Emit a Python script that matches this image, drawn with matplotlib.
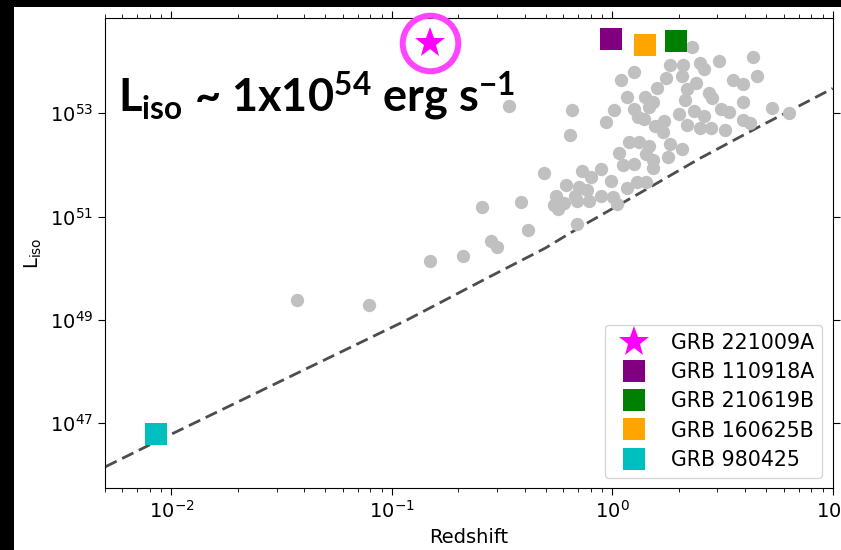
import numpy as np
import matplotlib
matplotlib.use("Agg")
import matplotlib.pyplot as plt
import matplotlib.ticker as ticker
from matplotlib.patches import Rectangle

# muestra de GRBs (log10 z, log10 Liso)
sample_logz = [0.361, 0.638, 0.482, 0.399, 0.323, 0.263, 0.414, 0.097, 0.041, 0.246,
               0.315, 0.550, 0.595, 0.658, 0.382, 0.203, 0.340, 0.438, 0.452, 0.067,
               0.150, 0.184, 0.331, 0.595, 0.165, 0.492, 0.528, -0.468, -0.183, 0.010,
               0.097, 0.369, 0.724, 0.800, 0.119, 0.142, 0.301, 0.417, -0.027, 0.233,
               0.195, 0.339, 0.397, 0.450, 0.510, 0.595, 0.626, 0.229, -0.190, 0.077,
               0.122, 0.165, 0.263, 0.315, 0.029, 0.154, 0.255, 0.187, 0.051, 0.097,
               0.184, -0.308, -0.137, -0.050, -0.096, -0.209, -0.153, -0.005, 0.113, 0.154,
               0.067, -0.115, -0.254, -0.168, -0.051, 0.005, -0.266, -0.221, -0.160, -0.104,
               0.021, -0.245, -0.590, -0.415, -0.160, -0.383, -0.551, -0.525, -0.677, -0.829,
               -1.105, -1.430]
sample_logL = [54.29, 54.08, 54.01, 53.98, 53.93, 53.93, 53.86, 53.79, 53.65, 53.68,
               53.72, 53.65, 53.56, 53.72, 53.58, 53.48, 53.46, 53.39, 53.29, 53.31,
               53.32, 53.22, 53.26, 53.22, 53.13, 53.08, 53.03, 53.14, 53.07, 53.07,
               53.09, 53.05, 53.11, 53.00, 52.93, 52.88, 52.98, 52.94, 52.84, 52.85,
               52.76, 52.78, 52.72, 52.71, 52.67, 52.87, 52.81, 52.63, 52.57, 52.44,
               52.45, 52.37, 52.41, 52.31, 52.24, 52.21, 52.16, 52.09, 52.00, 52.02,
               51.94, 51.84, 51.88, 51.93, 51.76, 51.62, 51.58, 51.68, 51.66, 51.66,
               51.55, 51.52, 51.40, 51.40, 51.39, 51.38, 51.23, 51.26, 51.31, 51.31,
               51.25, 51.14, 51.18, 51.28, 50.85, 50.74, 50.53, 50.42, 50.24, 50.15,
               49.28, 49.39]

# limite de deteccion
limit_logz = [-2.299, -2.000, -1.415, -0.931, -0.568, -0.304, -0.145, 0.127, 0.399, 0.671, 1.000]
limit_logL = [46.16, 46.79, 48.00, 49.00, 49.81, 50.39, 50.80, 51.46, 52.13, 52.75, 53.48]

# GRBs destacados
grb_names = ['GRB 221009A', 'GRB 110918A', 'GRB 210619B', 'GRB 160625B', 'GRB 980425']
grb_logz = [-0.825, -0.006, 0.289, 0.150, -2.069]
grb_logL = [54.36, 54.44, 54.40, 54.32, 46.79]
grb_colors = ['#ff00ff', '#800080', '#008000', '#ffa500', '#00bfbf']
grb_markers = ['*', 's', 's', 's', 's']
grb_sizes = [23, 16, 16, 16, 16]

plt.rcParams['mathtext.fontset'] = 'dejavusans'
plt.rcParams['mathtext.rm'] = 'Lato'
plt.rcParams['mathtext.bf'] = 'Lato:bold'

fig = plt.figure(figsize=(8.41, 5.5), dpi=100, facecolor='black')
fig.add_artist(Rectangle((14 / 841, 0), 1, 1 - 7 / 550, transform=fig.transFigure,
                         facecolor='white', edgecolor='none', zorder=-10))
ax = fig.add_axes([0.12485, 0.11218, 0.86528, 0.85564])

ax.plot(10 ** np.array(sample_logz), 10 ** np.array(sample_logL), 'o',
        color='#c0c0c0', ms=9.6, mew=0, zorder=2)
ax.plot(10 ** np.array(limit_logz), 10 ** np.array(limit_logL), color='#4d4d4d',
        lw=2, dashes=(4.5, 2.2), zorder=1)

for name, lz, lL, c, m, s in zip(grb_names, grb_logz, grb_logL, grb_colors, grb_markers, grb_sizes):
    ax.plot(10 ** lz, 10 ** lL, m, color=c, ms=s, mew=0, label=name, zorder=4, clip_on=False)

# circulo alrededor de GRB 221009A
ax.plot(10 ** grb_logz[0], 10 ** grb_logL[0], 'o', mfc='none', mec='#ff44ff',
        ms=40, mew=4.3, zorder=5, clip_on=False)

ax.set_xscale('log')
ax.set_yscale('log')
ax.set_xlim(5e-3, 10)
ax.set_ylim(5.53e45, 7.06e54)
ax.yaxis.set_major_locator(ticker.FixedLocator([1e47, 1e49, 1e51, 1e53]))
ax.yaxis.set_major_formatter(ticker.LogFormatterSciNotation())
ax.yaxis.set_minor_locator(ticker.NullLocator())
ax.tick_params(which='both', top=True, right=True, labelsize=14)
ax.tick_params(which='major', length=5)
ax.tick_params(which='minor', length=3)

ax.set_xlabel('Redshift', fontsize=14)
ax.set_ylabel(r'L$_{\mathrm{iso}}$', fontsize=14)
ax.legend(loc='lower right', fontsize=14.8, labelspacing=0.45, borderaxespad=0.5)

fig.text(118 / 841, 1 - 112 / 550,
         r'L$_{\mathbf{iso}}$ ~ 1x10$^{\mathbf{54}}$ erg s$^{\mathbf{-1}}$',
         fontsize=32.5, fontweight='bold', family='Lato', math_fontfamily='custom',
         va='baseline', ha='left')

fig.savefig('out.png', dpi=100, facecolor=fig.get_facecolor())
